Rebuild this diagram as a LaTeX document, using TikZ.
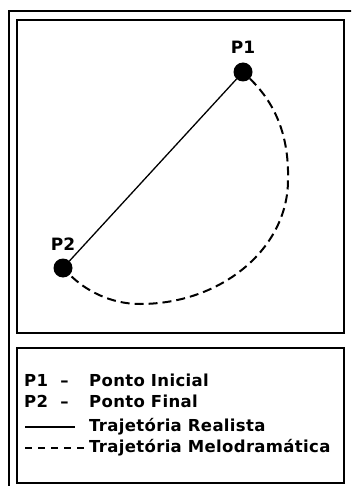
\documentclass[tikz,border=0pt]{standalone}
\usepackage{fontspec}
\setmainfont{DejaVu Sans}
\newfontfamily\legfont[LetterSpace=2]{DejaVu Sans Bold}
\newfontfamily\ptfont{DejaVu Sans Bold}
\usetikzlibrary{positioning}
\tikzset{
  frame/.style={line width=2pt},
  dot/.style={circle,fill=black,inner sep=0pt,minimum size=19pt},
  ptlabel/.style={font=\ptfont\fontsize{17}{19}\selectfont,inner sep=1pt},
  legtext/.style={font=\legfont\fontsize{16.5}{18}\selectfont,anchor=base west,inner sep=0pt},
  realista/.style={line width=1.3pt},
  melo/.style={line width=2pt,dash pattern=on 9pt off 5pt},
  legmelo/.style={line width=2pt,dash pattern=on 7pt off 6pt}
}

\begin{document}
\begin{tikzpicture}[x=1pt,y=-1pt]
        \useasboundingbox (0,0) rectangle (351,486);
        \clip (0,0) rectangle (351,486);
        %Frames
        \draw[frame] (9,500) -- (9,11) -- (360,11);
        \draw[frame] (17,20) rectangle (344,333);
        \draw[frame] (17,348) rectangle (344,483);
        %Points
        \node[dot] (p1) at (243,72) {};
        \node[dot] (p2) at (63,268) {};
        \node[ptlabel, above=8pt of p1] (p1lab) {P1};
        \node[ptlabel, above=7pt of p2] (p2lab) {P2};
        \coordinate (bulge) at (288,180);
        \coordinate (bottom) at (140,304);
        %Trajectories
        \draw[realista] (p1) -- (p2);
        \draw[melo] (p1) .. controls (278,106) and (289,140) .. (bulge)
                         .. controls (288,248) and (222,304) .. (bottom)
                         .. controls (110,304) and (85,290) .. (p2);
        %Legend
        \node[legtext] (leg1) at (24,386) {P1\ \ –};
        \node[legtext] (leg1b) at (89,386) {Ponto Inicial};
        \node[legtext] (leg2) at (24,407) {P2\ \ –};
        \node[legtext] (leg2b) at (89,407) {Ponto Final};
        \node[legtext] (leg3) at (89,431) {Trajetória Realista};
        \node[legtext] (leg4) at (89,452) {Trajetória Melodramática};
        \draw[realista,line width=1.8pt] (25,427) -- (75,427);
        \draw[legmelo] (25,448) -- (84,448);
      \end{tikzpicture}
\end{document}
